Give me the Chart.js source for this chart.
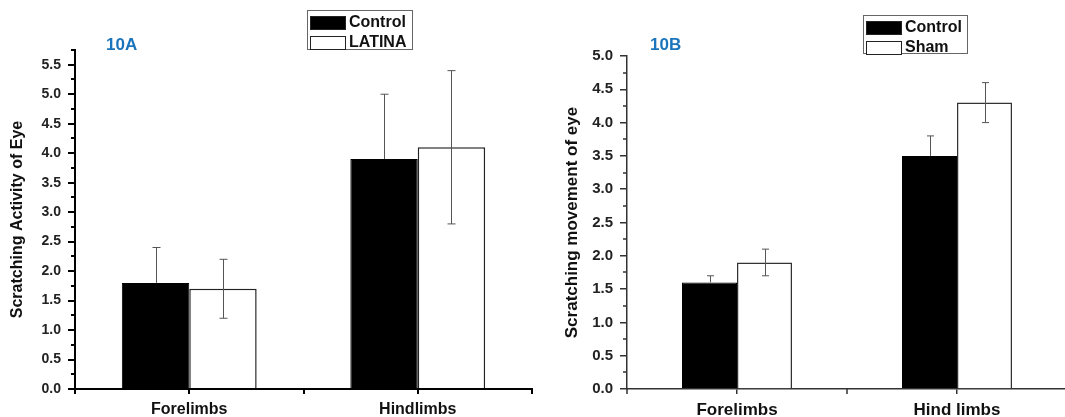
<!DOCTYPE html>
<html>
<head>
<meta charset="utf-8">
<script src="https://cdn.jsdelivr.net/npm/chart.js@4/dist/chart.umd.min.js"></script>
<style>
  body { margin: 0; background: #fff; overflow: hidden; }
  .panel { position: absolute; top: 0; width: 535px; height: 417px; }
  #pa { left: 0; }
  #pb { left: 535px; }
</style>
</head>
<body>
<div class="panel" id="pa"><canvas id="chartA"></canvas></div>
<div class="panel" id="pb"><canvas id="chartB"></canvas></div>
<script>
// panel 10A
const categoriesA = ['Forelimbs', 'Hindlimbs'];
const controlA = [1.8, 3.9];
const controlErrA = [0.6, 1.1];
const latinaA = [1.7, 4.1];
const latinaErrA = [0.5, 1.3];

// panel 10B
const categoriesB = ['Forelimbs', 'Hind limbs'];
const controlB = [1.6, 3.5];
const controlErrB = [0.1, 0.3];
const shamB = [1.9, 4.3];
const shamErrB = [0.2, 0.3];

Chart.defaults.font.family = "'Liberation Sans', Arial, sans-serif";
Chart.defaults.color = '#111';

// error bars, minor ticks, panel tag and boxed legend
const figDecor = {
    id: 'figDecor',
    afterDatasetsDraw(chart, args, opts) {
        const ctx = chart.ctx;
        const y = chart.scales.y;
        ctx.save();
        ctx.strokeStyle = opts.errColor;
        ctx.lineWidth = 1;
        chart.data.datasets.forEach((ds, d) => {
            const meta = chart.getDatasetMeta(d);
            // the lower whisker disappears inside a solid black bar
            const solid = ds.backgroundColor === '#000';
            meta.data.forEach((bar, i) => {
                const hi = y.getPixelForValue(ds.data[i] + ds.errors[i]);
                const lo = solid ? bar.y : y.getPixelForValue(ds.data[i] - ds.errors[i]);
                const x = Math.round(bar.x) + 0.5;
                ctx.beginPath();
                ctx.moveTo(x, hi); ctx.lineTo(x, lo);
                ctx.moveTo(x - opts.cap / 2, hi); ctx.lineTo(x + opts.cap / 2, hi);
                if (!solid) {
                    ctx.moveTo(x - opts.cap / 2, lo); ctx.lineTo(x + opts.cap / 2, lo);
                }
                ctx.stroke();
            });
        });
        ctx.restore();
    },
    afterDraw(chart, args, opts) {
        const ctx = chart.ctx;
        const area = chart.chartArea;
        const y = chart.scales.y;
        const x = chart.scales.x;
        ctx.save();
        ctx.strokeStyle = opts.axisColor;
        ctx.lineWidth = opts.axisWidth;

        // minor ticks halfway between the major ones
        ctx.beginPath();
        y.ticks.forEach(t => {
            const v = t.value + 0.25;
            if (v <= y.max + 1e-9) {
                const py = Math.round(y.getPixelForValue(v));
                ctx.moveTo(area.left, py);
                ctx.lineTo(area.left - 4, py);
            }
        });
        // category boundary ticks on x
        [-0.5, 0.5, 1.5].forEach(v => {
            const px = Math.round(x.getPixelForValue(v));
            ctx.moveTo(px, area.bottom);
            ctx.lineTo(px, area.bottom + 5);
        });
        ctx.stroke();

        // panel tag
        ctx.fillStyle = '#1b75bc';
        ctx.font = "bold 17px 'Liberation Sans', Arial, sans-serif";
        ctx.textBaseline = 'middle';
        ctx.textAlign = 'left';
        ctx.fillText(opts.tag, opts.tagX, opts.tagY);

        // legend box
        const lg = opts.legend;
        ctx.strokeStyle = '#666';
        ctx.lineWidth = 1;
        ctx.strokeRect(lg.x + 0.5, lg.y + 0.5, lg.w, lg.h);
        ctx.font = "bold 16px 'Liberation Sans', Arial, sans-serif";
        chart.data.datasets.forEach((ds, d) => {
            const sy = lg.y + 6 + d * 20;
            ctx.fillStyle = ds.backgroundColor;
            ctx.fillRect(lg.x + 3, sy, 35, 13);
            ctx.strokeStyle = '#222';
            ctx.strokeRect(lg.x + 3.5, sy + 0.5, 35, 13);
            ctx.fillStyle = '#111';
            ctx.fillText(ds.label, lg.x + 42, sy + 7);
        });
        ctx.restore();
    }
};

function makePanel(id, labels, datasets, cfg) {
    new Chart(document.getElementById(id), {
        type: 'bar',
        data: { labels: labels, datasets: datasets },
        plugins: [figDecor],
        options: {
            responsive: true,
            maintainAspectRatio: false,
            animation: false,
            layout: { padding: { top: cfg.top, right: 3, left: 0, bottom: 0 } },
            datasets: {
                bar: { categoryPercentage: cfg.groupWidth, barPercentage: 1.0 }
            },
            plugins: {
                legend: { display: false },
                tooltip: { enabled: false },
                figDecor: {
                    errColor: '#555', cap: cfg.cap,
                    axisColor: cfg.axisColor, axisWidth: cfg.axisWidth,
                    tag: cfg.tag, tagX: cfg.tagX, tagY: 45,
                    legend: cfg.legend
                }
            },
            scales: {
                x: {
                    afterFit(scale) { scale.height = 28; },
                    grid: { drawOnChartArea: false, offset: false, tickLength: 5, color: cfg.axisColor, lineWidth: cfg.axisWidth },
                    border: { color: cfg.axisColor, width: cfg.axisWidth },
                    ticks: { font: { size: cfg.xFont, weight: 'bold' }, color: '#111', padding: 6, maxRotation: 0 }
                },
                y: {
                    min: 0,
                    max: cfg.max,
                    afterFit(scale) { scale.width = cfg.yWidth; },
                    grid: { drawOnChartArea: false, tickLength: 7, color: cfg.axisColor, lineWidth: cfg.axisWidth },
                    border: { color: cfg.axisColor, width: cfg.axisWidth },
                    ticks: {
                        stepSize: 0.5,
                        includeBounds: false,
                        font: { size: cfg.yFont, weight: 'bold' },
                        color: '#222',
                        padding: cfg.yPad,
                        callback: v => v.toFixed(1)
                    },
                    title: {
                        display: true,
                        text: cfg.yTitle,
                        font: { size: cfg.titleFont, weight: 'bold' },
                        color: '#111',
                        padding: { top: cfg.titlePad, bottom: 0 }
                    }
                }
            }
        }
    });
}

makePanel('chartA', categoriesA, [
    { label: 'Control', data: controlA, errors: controlErrA, backgroundColor: '#000', borderColor: '#000', borderWidth: 1 },
    { label: 'LATINA', data: latinaA, errors: latinaErrA, backgroundColor: '#fff', borderColor: '#222', borderWidth: 1.5 }
], {
    top: 50, max: 5.75, yWidth: 75, yPad: 7, yFont: 14, xFont: 16,
    titleFont: 16, titlePad: 8, yTitle: 'Scratching Activity of Eye',
    groupWidth: 0.59, cap: 8, axisColor: '#000', axisWidth: 2,
    tag: '10A', tagX: 106,
    legend: { x: 307, y: 10, w: 105, h: 39 }
});

makePanel('chartB', categoriesB, [
    { label: 'Control', data: controlB, errors: controlErrB, backgroundColor: '#000', borderColor: '#000', borderWidth: 1 },
    { label: 'Sham', data: shamB, errors: shamErrB, backgroundColor: '#fff', borderColor: '#333', borderWidth: 1.5 }
], {
    top: 56, max: 5.0, yWidth: 92, yPad: 7, yFont: 15, xFont: 17,
    titleFont: 17, titlePad: 27, yTitle: 'Scratching movement of eye',
    groupWidth: 0.5, cap: 7, axisColor: '#333', axisWidth: 1.5,
    tag: '10B', tagX: 115,
    legend: { x: 328, y: 15, w: 104, h: 38 }
});
</script>
</body>
</html>
